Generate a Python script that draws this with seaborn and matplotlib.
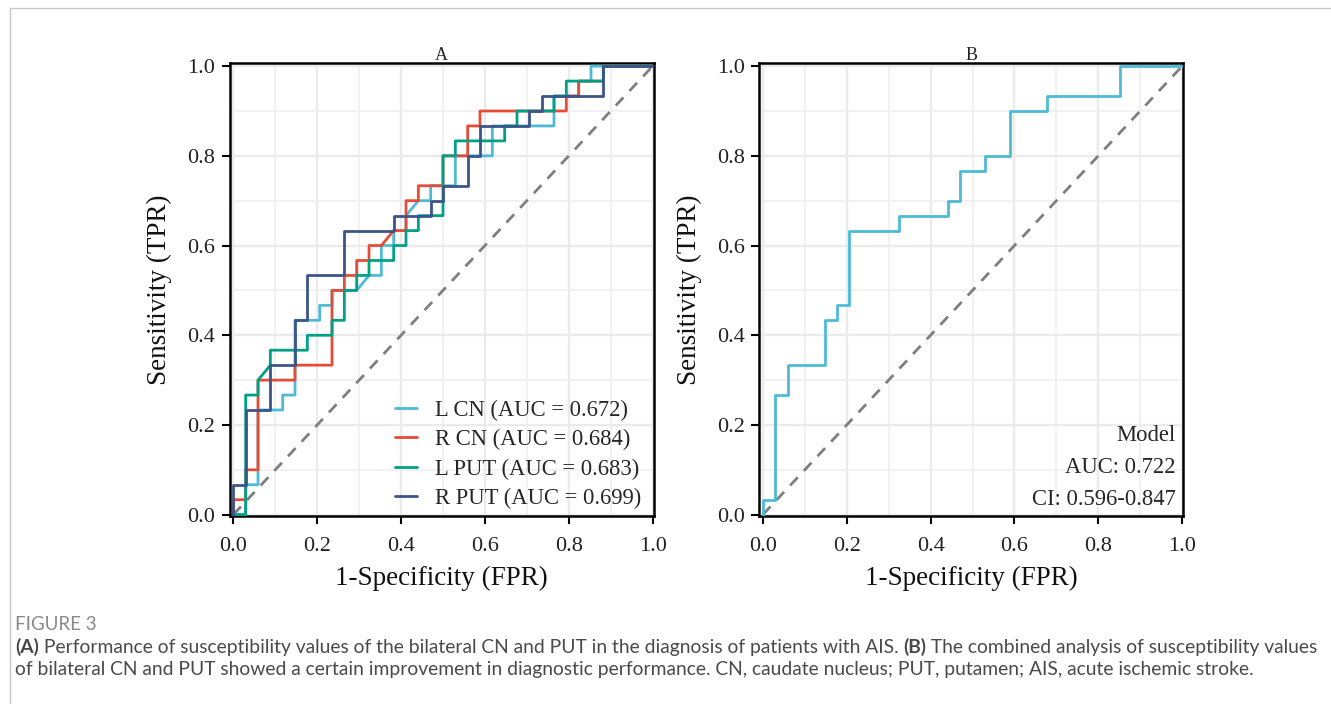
import numpy as np
import pandas as pd
import matplotlib
matplotlib.use("Agg")
import matplotlib.pyplot as plt
import seaborn as sns
from matplotlib.ticker import MultipleLocator, FixedLocator
from matplotlib.lines import Line2D

# ---------------- data (ROC vertices as counts of negatives / positives) -------------
N_NEG = 34   # controls  -> FPR step 1/34
N_POS = 30   # cases     -> TPR step 1/30

series_names = ["L CN", "R CN", "L PUT", "R PUT"]
auc_values = [0.672, 0.684, 0.683, 0.699]
series_colors = ["#4DBBD5", "#E64B35", "#00A087", "#3C5488"]

lcn_fp = [0, 1, 1, 2, 2, 4, 4, 5, 5, 7, 7, 8, 8, 10, 11, 12, 12, 13, 13, 14, 14, 15, 16, 16,
          18, 18, 21, 21, 26, 26, 28, 28, 29, 29, 34]
lcn_tp = [0, 0, 2, 2, 7, 7, 8, 8, 13, 13, 14, 14, 15, 15, 16, 16, 18, 18, 19, 19, 20, 21, 21, 22,
          22, 24, 24, 26, 26, 28, 28, 29, 29, 30, 30]

rcn_fp = [0, 0, 1, 1, 2, 2, 5, 5, 8, 8, 9, 9, 10, 10, 11, 11, 12, 13, 14, 14, 15, 15, 17, 17,
          19, 19, 20, 20, 27, 27, 28, 28, 30, 30, 34]
rcn_tp = [0, 1, 1, 3, 3, 9, 9, 10, 10, 15, 15, 16, 16, 17, 17, 18, 18, 19, 19, 21, 21, 22, 22, 24,
          24, 26, 26, 27, 27, 28, 28, 29, 29, 30, 30]

lput_fp = [0, 1, 1, 2, 2, 3, 3, 6, 6, 8, 8, 9, 9, 10, 10, 11, 11, 13, 13, 14, 14, 15, 15, 17,
           17, 18, 18, 22, 22, 23, 23, 26, 26, 27, 27, 30, 30, 34]
lput_tp = [0, 0, 8, 8, 9, 10, 11, 11, 12, 12, 13, 13, 15, 15, 16, 16, 17, 17, 18, 18, 19, 19, 20, 20,
           24, 24, 25, 25, 26, 26, 27, 27, 28, 28, 29, 29, 30, 30]

rput_fp = [0, 0, 1, 1, 3, 3, 5, 5, 6, 6, 9, 9, 13, 13, 16, 16, 17, 17, 19, 19, 20, 20, 24, 24,
           25, 25, 30, 30, 34]
rput_tp = [0, 2, 2, 7, 7, 10, 10, 13, 13, 16, 16, 19, 19, 20, 20, 21, 21, 22, 22, 24, 24, 26, 26, 27,
           27, 28, 28, 30, 30]

model_fp = [0, 0, 1, 1, 2, 2, 5, 5, 6, 6, 7, 7, 11, 11, 15, 15, 16, 16, 18, 18, 20, 20, 23, 23,
            29, 29, 34]
model_tp = [0, 1, 1, 8, 8, 10, 10, 13, 13, 14, 14, 19, 19, 20, 20, 21, 21, 23, 23, 24, 24, 27, 27, 28,
            28, 30, 30]
model_color = "#4DBBD5"
model_auc = 0.722
model_ci_low = 0.596
model_ci_high = 0.847

chance_line = [0.0, 1.0]
tick_values = [0.0, 0.2, 0.4, 0.6, 0.8, 1.0]
tick_labels = ["0.0", "0.2", "0.4", "0.6", "0.8", "1.0"]

panel_titles = ["A", "B"]
x_label = "1-Specificity (FPR)"
y_label = "Sensitivity (TPR)"

caption_head = "FIGURE 3"
caption_line1 = [("(A)", "bold"),
                 (" Performance of susceptibility values of the bilateral CN and PUT in the diagnosis of patients with AIS. ", "normal"),
                 ("(B)", "bold"),
                 (" The combined analysis of susceptibility values", "normal")]
caption_line2 = [("of bilateral CN and PUT showed a certain improvement in diagnostic performance. "
                  "CN, caudate nucleus; PUT, putamen; AIS, acute ischemic stroke.", "normal")]

# ---------------- build tidy frames ----------------
curves = [(lcn_fp, lcn_tp), (rcn_fp, rcn_tp), (lput_fp, lput_tp), (rput_fp, rput_tp)]
labels = [f"{n} (AUC = {a:.3f})" for n, a in zip(series_names, auc_values)]
rows = []
for lab, (fp, tp) in zip(labels, curves):
    for f, t in zip(fp, tp):
        rows.append({"fpr": f / N_NEG, "tpr": t / N_POS, "label": lab})
df_a = pd.DataFrame(rows)
df_b = pd.DataFrame({"fpr": np.array(model_fp) / N_NEG, "tpr": np.array(model_tp) / N_POS,
                     "label": "Model"})

# ---------------- style ----------------
sns.set_theme(style="white")
plt.rcParams["font.family"] = ["Liberation Serif", "DejaVu Serif"]
plt.rcParams["axes.linewidth"] = 1.6

W, H = 1331, 704
fig = plt.figure(figsize=(W / 100, H / 100), dpi=100)
fig.patch.set_facecolor("white")

ax_w = (653.5 - 230) / W
ax_h = (516 - 63) / H
ax_a = fig.add_axes([230 / W, (H - 516) / H, ax_w, ax_h])
ax_b = fig.add_axes([759.5 / W, (H - 516) / H, ax_w, ax_h])

XLAB_PAD = 7
YLAB_PAD = 11
ANNOT_SIZE = 16.3


def style_axes(ax, title):
    ax.set_xlim(-0.008, 1.002)
    ax.set_ylim(-0.003, 1.007)
    ax.xaxis.set_major_locator(FixedLocator(tick_values))
    ax.yaxis.set_major_locator(FixedLocator(tick_values))
    ax.set_xticklabels(tick_labels)
    ax.set_yticklabels(tick_labels)
    ax.xaxis.set_minor_locator(MultipleLocator(0.1))
    ax.yaxis.set_minor_locator(MultipleLocator(0.1))
    ax.grid(which="major", color="#EBEBEB", lw=1.7, zorder=0)
    ax.grid(which="minor", color="#EFEFEF", lw=1.2, zorder=0)
    ax.set_axisbelow(True)
    for s in ax.spines.values():
        s.set_color("black")
        s.set_linewidth(1.8)
    ax.tick_params(which="major", direction="out", length=6, width=1.5, color="black",
                   labelsize=16, left=True, bottom=True, labelcolor="#222222")
    ax.tick_params(axis="x", which="major", pad=9)
    ax.tick_params(axis="y", which="major", pad=4.5)
    ax.tick_params(which="minor", length=0)
    ax.set_title(title, fontsize=13, pad=2)
    ax.plot(chance_line, chance_line, color="#7F7F7F", lw=2.0, ls=(0, (4, 3.2)), zorder=2)


style_axes(ax_a, panel_titles[0])
style_axes(ax_b, panel_titles[1])

sns.lineplot(data=df_a, x="fpr", y="tpr", hue="label", hue_order=labels,
             palette=series_colors, sort=False, estimator=None, lw=2.0, ax=ax_a, zorder=3)
handles, labs = ax_a.get_legend_handles_labels()
ax_a.legend(handles, labs, loc="lower right", bbox_to_anchor=(1.0, -0.012), frameon=False,
            fontsize=ANNOT_SIZE, handlelength=0.95, handletextpad=0.8, labelspacing=0.36,
            borderaxespad=0.15)

sns.lineplot(data=df_b, x="fpr", y="tpr", color=model_color, sort=False, estimator=None,
             lw=2.0, ax=ax_b, zorder=3, legend=False)
ax_b.text(0.982, 0.178, "Model", transform=ax_b.transAxes, ha="right", va="center",
          fontsize=ANNOT_SIZE)
ax_b.text(0.982, 0.108, f"AUC: {model_auc:.3f}", transform=ax_b.transAxes, ha="right",
          va="center", fontsize=ANNOT_SIZE)
ax_b.text(0.982, 0.037, f"CI: {model_ci_low:.3f}-{model_ci_high:.3f}", transform=ax_b.transAxes,
          ha="right", va="center", fontsize=ANNOT_SIZE)

for ax in (ax_a, ax_b):
    ax.set_xlabel(x_label, fontsize=19.5, labelpad=XLAB_PAD, color="#111111")
    ax.set_ylabel(y_label, fontsize=19.5, labelpad=YLAB_PAD, color="#111111")

# ---------------- caption ----------------
cap_font = ["Lato", "DejaVu Sans"]
fig.text(15 / W, 1 - 625 / H, caption_head, fontsize=13.5, color="#8A8A8A", family=cap_font,
         va="center", ha="left")
renderer = fig.canvas.get_renderer()


def draw_rich(parts, y_px, x_px=15):
    x = x_px / W
    for txt, wt in parts:
        t = fig.text(x, 1 - y_px / H, txt, fontsize=13.9, color="#4A4A4A", family=cap_font,
                     weight=wt, va="center", ha="left")
        bb = t.get_window_extent(renderer)
        x = bb.x1 / W


draw_rich(caption_line1, 647)
draw_rich(caption_line2, 670)

# outer frame lines
fig.add_artist(Line2D([10 / W, 10 / W], [0, 1 - 8 / H], transform=fig.transFigure,
                      color="#C8C8C8", lw=1.0))
fig.add_artist(Line2D([10 / W, 1], [1 - 8 / H, 1 - 8 / H], transform=fig.transFigure,
                      color="#C8C8C8", lw=1.0))

fig.savefig("out.png", dpi=100, facecolor="white")
